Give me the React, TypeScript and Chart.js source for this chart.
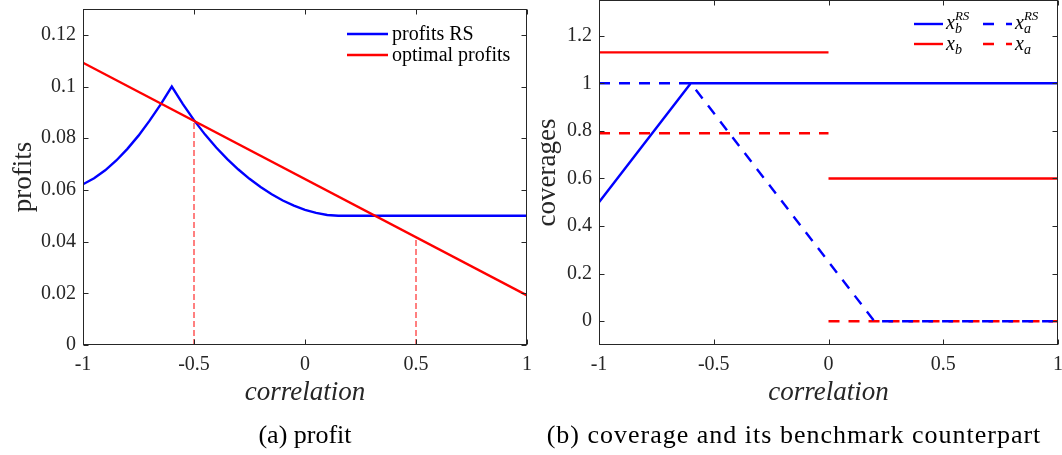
import React, { useEffect, useRef } from 'react';
import { Chart, registerables } from 'chart.js';

Chart.register(...registerables);

// ---------- Panel (a): profit ----------
const profitTicksX = [-1, -0.5, 0, 0.5, 1];
const profitTickLabelsX = ['-1', '-0.5', '0', '0.5', '1'];
const profitTicksY = [0, 0.02, 0.04, 0.06, 0.08, 0.1, 0.12];
const profitTickLabelsY = ['0', '0.02', '0.04', '0.06', '0.08', '0.1', '0.12'];

const rsRho = [
  -1, -0.95, -0.9, -0.85, -0.8, -0.75, -0.7, -0.65, -0.6,
  -0.55, -0.5, -0.45, -0.4, -0.35, -0.3, -0.25, -0.2, -0.15, -0.1, -0.05,
  0, 0.05, 0.1, 0.15, 0.2, 1,
];
const rsProfit = [
  0.0622, 0.0645, 0.0676, 0.0714, 0.0759, 0.081, 0.0868, 0.0931, 0.1,
  0.0932, 0.087, 0.0814, 0.0764, 0.0719, 0.0679, 0.0643, 0.0611, 0.0583, 0.0559, 0.0539,
  0.0523, 0.0511, 0.0503, 0.05, 0.05, 0.05,
];
const optRho = [-1, 1];
const optProfit = [0.1092, 0.0192];
const markRhoA = [-0.5, -0.5];
const markProfitA = [0, 0.0867];
const markRhoB = [0.5, 0.5];
const markProfitB = [0, 0.0417];

// ---------- Panel (b): coverages ----------
const covTicksX = [-1, -0.5, 0, 0.5, 1];
const covTickLabelsX = ['-1', '-0.5', '0', '0.5', '1'];
const covTicksY = [0, 0.2, 0.4, 0.6, 0.8, 1, 1.2];
const covTickLabelsY = ['0', '0.2', '0.4', '0.6', '0.8', '1', '1.2'];

const xbRSRho = [-1, -0.6, 1];
const xbRS = [0.5, 1, 1];
const xaRSRho = [-1, -0.6, 0.2, 1];
const xaRS = [1, 1, 0, 0];
const xbRho = [-1, 0, 0, 0, 1];
const xb = [1.13, 1.13, null, 0.6, 0.6];
const xaRho = [-1, 0, 0, 0, 1];
const xa = [0.79, 0.79, null, 0, 0];

const W = 1062;
const H = 455;
const AXIS = '#262626';
const SERIF = '"Liberation Serif", "Times New Roman", serif';
const BLUE = '#0000ff';
const RED = '#ff0000';
const LW = 2.4;

type Seg = { t: string; size: number; italic?: boolean; dy?: number; back?: boolean };

function drawSegs(ctx: CanvasRenderingContext2D, x: number, y: number, segs: Seg[]) {
  let cx = x;
  let prevStart = x;
  for (const s of segs) {
    ctx.font = `${s.italic ? 'italic ' : ''}${s.size}px ${SERIF}`;
    const start = s.back ? prevStart : cx;
    ctx.fillText(s.t, start, y + (s.dy || 0));
    const w = ctx.measureText(s.t).width;
    prevStart = start;
    cx = s.back ? Math.max(cx, start + w) : start + w;
  }
}

const decorPlugin = {
  id: 'decor',
  afterDraw(chart: any, _args: any, opts: any) {
    const { ctx, chartArea: a } = chart;
    const xs = chart.scales.x;
    const ys = chart.scales.y;
    ctx.save();
    // frame
    ctx.strokeStyle = AXIS;
    ctx.lineWidth = 1;
    const L = Math.round(a.left) + 0.5;
    const R = Math.round(a.right) - 0.5;
    const T = Math.round(a.top) + 0.5;
    const B = Math.round(a.bottom) - 0.5;
    ctx.strokeRect(L, T, R - L, B - T);
    // inward ticks
    const tl = 5;
    ctx.beginPath();
    for (const v of opts.ticksX) {
      const px = Math.round(xs.getPixelForValue(v)) + 0.5;
      ctx.moveTo(px, B); ctx.lineTo(px, B - tl);
      ctx.moveTo(px, T); ctx.lineTo(px, T + tl);
    }
    for (const v of opts.ticksY) {
      const py = Math.round(ys.getPixelForValue(v)) + 0.5;
      ctx.moveTo(L, py); ctx.lineTo(L + tl, py);
      ctx.moveTo(R, py); ctx.lineTo(R - tl, py);
    }
    ctx.stroke();

    ctx.fillStyle = AXIS;
    // x title
    ctx.textAlign = 'center';
    ctx.textBaseline = 'middle';
    ctx.font = `italic 27px ${SERIF}`;
    ctx.fillText(opts.xTitle, (a.left + a.right) / 2, opts.xTitleY);
    // y title
    ctx.save();
    ctx.translate(opts.yTitleX, (a.top + a.bottom) / 2);
    ctx.rotate(-Math.PI / 2);
    ctx.font = `27px ${SERIF}`;
    ctx.fillText(opts.yTitle, 0, 0);
    ctx.restore();
    // caption
    ctx.fillStyle = '#000';
    ctx.font = `26px ${SERIF}`;
    (ctx as any).letterSpacing = opts.captionSpacing || '0px';
    ctx.fillText(opts.caption, opts.captionX, opts.captionY);
    (ctx as any).letterSpacing = '0px';

    // legend
    ctx.textAlign = 'left';
    ctx.textBaseline = 'alphabetic';
    for (const it of opts.legend) {
      ctx.strokeStyle = it.color;
      ctx.lineWidth = LW;
      ctx.setLineDash(it.dash || []);
      ctx.beginPath();
      ctx.moveTo(it.x0, it.y);
      ctx.lineTo(it.x1, it.y);
      ctx.stroke();
      ctx.setLineDash([]);
      ctx.fillStyle = '#000';
      drawSegs(ctx, it.tx, it.y + it.tdy, it.segs);
    }
    ctx.restore();
  },
};

function pts(xsArr: number[], ysArr: (number | null)[]) {
  return xsArr.map((x, i) => ({ x, y: ysArr[i] }));
}

function baseOptions(c: any) {
  const tickFont = { family: SERIF, size: 20 };
  return {
    responsive: false,
    animation: false,
    devicePixelRatio: 1,
    layout: { padding: c.padding },
    plugins: {
      legend: { display: false },
      tooltip: { enabled: false },
      decor: c.decor,
    },
    scales: {
      x: {
        type: 'linear',
        min: c.xMin,
        max: c.xMax,
        afterFit: (s: any) => {
          s.height = H - c.bottom;
          s.paddingLeft = 0; s.paddingRight = 0; s.paddingTop = 0; s.paddingBottom = 0;
        },
        afterBuildTicks: (s: any) => { s.ticks = c.ticksX.map((v: number) => ({ value: v })); },
        ticks: {
          callback: (_v: any, i: number) => c.labelsX[i],
          font: tickFont,
          color: AXIS,
          padding: 8,
          maxRotation: 0,
          autoSkip: false,
        },
        grid: { display: false, drawTicks: false },
        border: { display: false },
      },
      y: {
        type: 'linear',
        min: c.yMin,
        max: c.yMax,
        afterFit: (s: any) => {
          s.width = c.yWidth;
          s.paddingLeft = 0; s.paddingRight = 0; s.paddingTop = 0; s.paddingBottom = 0;
        },
        afterBuildTicks: (s: any) => { s.ticks = c.ticksY.map((v: number) => ({ value: v })); },
        ticks: {
          callback: (_v: any, i: number) => c.labelsY[i],
          font: tickFont,
          color: AXIS,
          padding: 7,
          autoSkip: false,
        },
        grid: { display: false, drawTicks: false },
        border: { display: false },
      },
    },
  };
}

function ProfitChart() {
  const ref = useRef<HTMLCanvasElement>(null);
  useEffect(() => {
    const chart = new Chart(ref.current as HTMLCanvasElement, {
      type: 'line',
      data: {
        datasets: [
          {
            label: 'optimal profits',
            data: pts(optRho, optProfit),
            borderColor: RED, borderWidth: LW, pointRadius: 0, order: 0,
          },
          {
            label: 'profits RS',
            data: pts(rsRho, rsProfit),
            borderColor: BLUE, borderWidth: LW, pointRadius: 0, order: 1,
          },
          {
            label: 'rho = -0.5',
            data: pts(markRhoA, markProfitA),
            borderColor: RED, borderWidth: 1, borderDash: [6, 3], pointRadius: 0, order: 2,
          },
          {
            label: 'rho = 0.5',
            data: pts(markRhoB, markProfitB),
            borderColor: RED, borderWidth: 1, borderDash: [6, 3], pointRadius: 0, order: 2,
          },
        ],
      },
      options: baseOptions({
        padding: { left: 0, top: 9, right: W - 527, bottom: 0 },
        bottom: 345,
        yWidth: 83,
        xMin: -1, xMax: 1, yMin: 0, yMax: 0.13,
        ticksX: profitTicksX, labelsX: profitTickLabelsX,
        ticksY: profitTicksY, labelsY: profitTickLabelsY,
        decor: {
          ticksX: profitTicksX, ticksY: profitTicksY,
          xTitle: 'correlation', xTitleY: 393,
          yTitle: 'profits', yTitleX: 24,
          caption: '(a) profit', captionX: 305, captionY: 436,
          legend: [
            { x0: 347, x1: 388, y: 34, color: BLUE, tx: 392, tdy: 6, segs: [{ t: 'profits RS', size: 20 }] },
            { x0: 347, x1: 388, y: 55, color: RED, tx: 392, tdy: 6, segs: [{ t: 'optimal profits', size: 20 }] },
          ],
        },
      }) as any,
      plugins: [decorPlugin as any],
    });
    return () => chart.destroy();
  }, []);
  return <canvas ref={ref} width={W} height={H} style={{ position: 'absolute', left: 0, top: 0, width: W, height: H }} />;
}

function CoverageChart() {
  const ref = useRef<HTMLCanvasElement>(null);
  useEffect(() => {
    const chart = new Chart(ref.current as HTMLCanvasElement, {
      type: 'line',
      data: {
        datasets: [
          {
            label: 'x_b^RS',
            data: pts(xbRSRho, xbRS),
            borderColor: BLUE, borderWidth: LW, pointRadius: 0, order: 1,
          },
          {
            label: 'x_a^RS',
            data: pts(xaRSRho, xaRS),
            borderColor: BLUE, borderWidth: LW, borderDash: [11, 9], pointRadius: 0, order: 0,
          },
          {
            label: 'x_b',
            data: pts(xbRho, xb),
            borderColor: RED, borderWidth: LW, pointRadius: 0, spanGaps: false, order: 2,
          },
          {
            label: 'x_a',
            data: pts(xaRho, xa),
            borderColor: RED, borderWidth: LW, borderDash: [11, 9], pointRadius: 0, spanGaps: false, order: 3,
          },
        ],
      },
      options: baseOptions({
        padding: { left: 599 - 59, top: 0, right: W - 1058, bottom: 0 },
        bottom: 345,
        yWidth: 59,
        xMin: -1, xMax: 1, yMin: -0.1, yMax: 1.35,
        ticksX: covTicksX, labelsX: covTickLabelsX,
        ticksY: covTicksY, labelsY: covTickLabelsY,
        decor: {
          ticksX: covTicksX, ticksY: covTicksY,
          xTitle: 'correlation', xTitleY: 393,
          yTitle: 'coverages', yTitleX: 548,
          caption: '(b) coverage and its benchmark counterpart', captionX: 794, captionY: 436,
          captionSpacing: '1px',
          legend: [
            {
              x0: 914, x1: 943, y: 24, color: BLUE, tx: 946, tdy: 5,
              segs: [
                { t: 'x', size: 20, italic: true },
                { t: 'b', size: 14, italic: true, dy: 4 },
                { t: 'RS', size: 13, italic: true, dy: -9, back: true },
              ],
            },
            {
              x0: 983, x1: 1012, y: 24, color: BLUE, dash: [11, 12], tx: 1015, tdy: 5,
              segs: [
                { t: 'x', size: 20, italic: true },
                { t: 'a', size: 14, italic: true, dy: 4 },
                { t: 'RS', size: 13, italic: true, dy: -9, back: true },
              ],
            },
            {
              x0: 914, x1: 943, y: 44, color: RED, tx: 946, tdy: 6,
              segs: [
                { t: 'x', size: 20, italic: true },
                { t: 'b', size: 14, italic: true, dy: 4 },
              ],
            },
            {
              x0: 983, x1: 1012, y: 44, color: RED, dash: [11, 12], tx: 1015, tdy: 6,
              segs: [
                { t: 'x', size: 20, italic: true },
                { t: 'a', size: 14, italic: true, dy: 4 },
              ],
            },
          ],
        },
      }) as any,
      plugins: [decorPlugin as any],
    });
    return () => chart.destroy();
  }, []);
  return <canvas ref={ref} width={W} height={H} style={{ position: 'absolute', left: 0, top: 0, width: W, height: H }} />;
}

export default function App() {
  return (
    <div style={{ position: 'fixed', left: 0, top: 0, width: W, height: H, background: '#fff', overflow: 'hidden' }}>
      <ProfitChart />
      <CoverageChart />
    </div>
  );
}
